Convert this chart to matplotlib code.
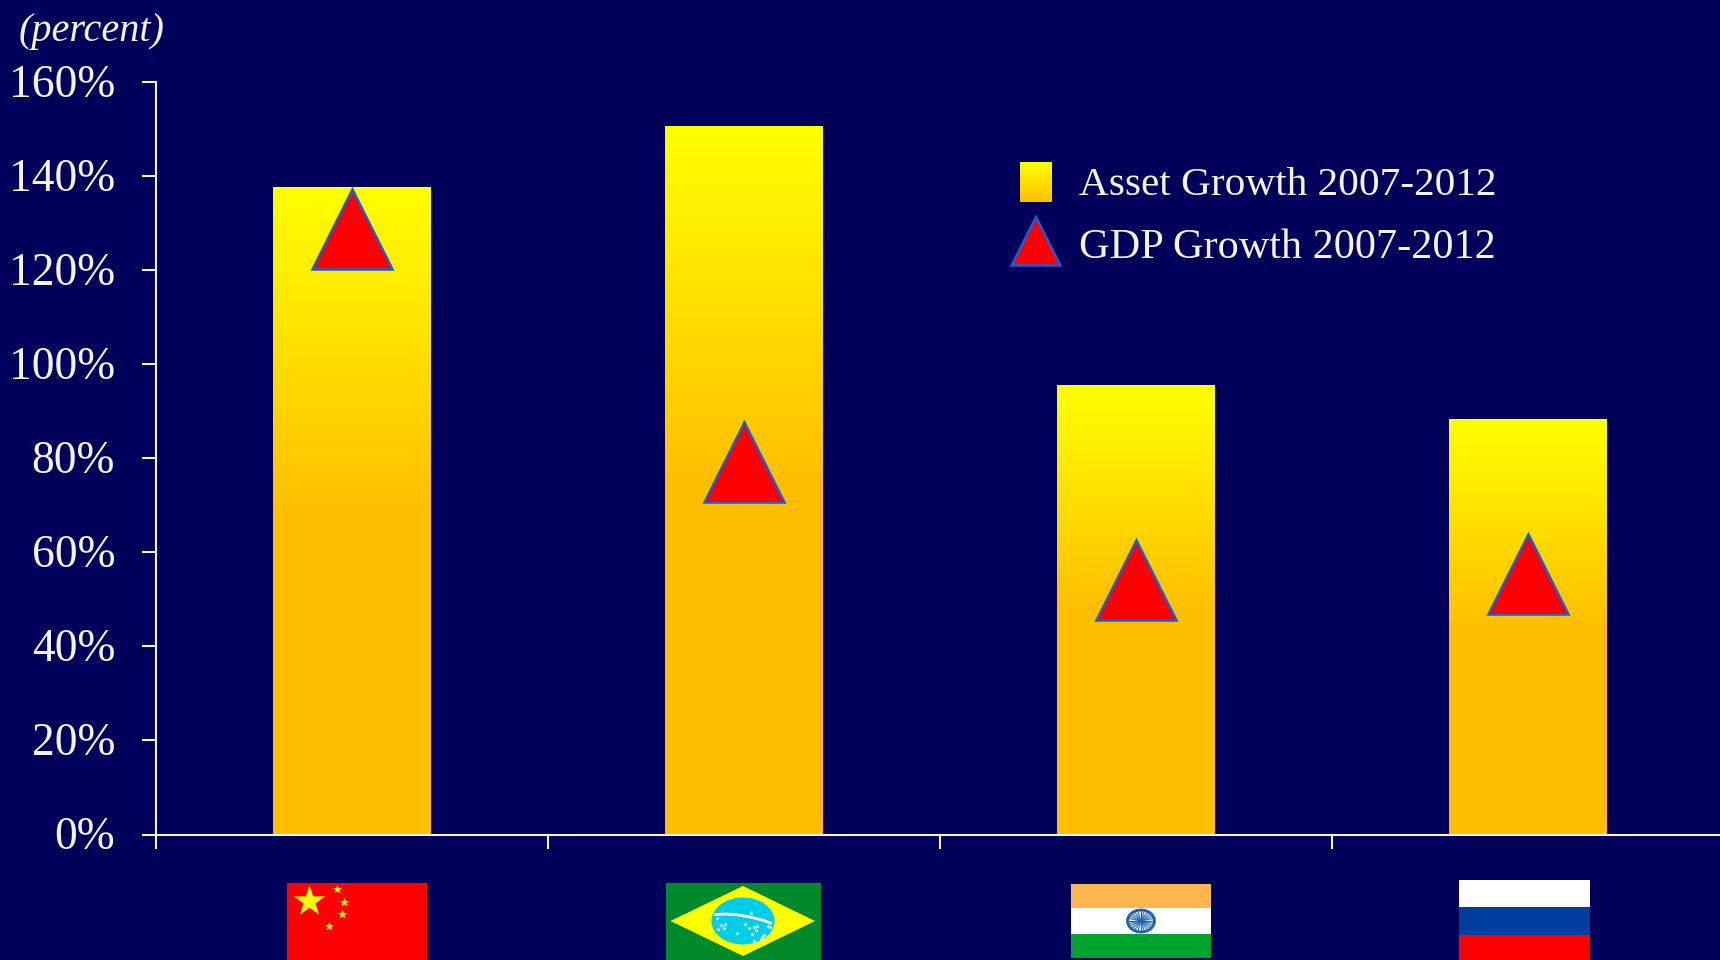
import numpy as np
import matplotlib
matplotlib.use("Agg")
import matplotlib.pyplot as plt
from matplotlib.colors import LinearSegmentedColormap
from matplotlib.patches import Ellipse, Polygon, Rectangle
from matplotlib.transforms import ScaledTranslation

# Data
countries = ["China", "Brazil", "India", "Russia"]
asset_growth = [137.6, 150.5, 95.3, 88.2]
gdp_growth = [128.7, 79.2, 54.2, 55.5]
y_ticks = [0, 20, 40, 60, 80, 100, 120, 140, 160]
y_tick_labels = ["0%", "20%", "40%", "60%", "80%", "100%", "120%", "140%", "160%"]

NAVY = "#00005a"
WHITE = "#f4f4f8"
W, H = 1720, 960

plt.rcParams["font.family"] = ["Liberation Serif", "DejaVu Serif"]

fig = plt.figure(figsize=(W / 100, H / 100), dpi=100, facecolor=NAVY)
ax = fig.add_axes([156 / W, 1 - 834.5 / H, (W - 156) / W, (834.5 - 82.3) / H], facecolor=NAVY)

# Bars with a vertical yellow to amber fade
fade = LinearSegmentedColormap.from_list("fade", ["#ffbf00", "#ffbf00", "#ffff00"])
x = np.arange(len(countries)) + 0.5
bars = ax.bar(x, asset_growth, width=0.403, color="#ffbf00", zorder=2)
grad = np.linspace(0, 1, 256).reshape(-1, 1)
for b in bars:
    ax.imshow(grad, cmap=fade, origin="lower", aspect="auto", zorder=2.5,
              extent=(b.get_x(), b.get_x() + b.get_width(), 0, b.get_height()))

# GDP growth markers
ax.plot(x, gdp_growth, ls="none", marker="^", ms=57.5, mfc="#ff0000", mec="#1460d8",
        mew=1.8, zorder=3, clip_on=False)

ax.set_xlim(0, (W - 156) / 392)
ax.set_ylim(0, 160)
ax.set_xticks([0, 1, 2, 3])
ax.set_xticklabels([])
ax.set_yticks(y_ticks)
ax.set_yticklabels(y_tick_labels, fontsize=32.8, color=WHITE)
ax.tick_params(axis="y", length=10, width=1.5, color=WHITE, pad=19.5)
ax.tick_params(axis="x", length=10, width=1.5, color=WHITE)
# nudge the y labels up a little
for lab in ax.get_yticklabels():
    lab.set_transform(lab.get_transform() + ScaledTranslation(0, 2 / 100, fig.dpi_scale_trans))
for side in ["top", "right"]:
    ax.spines[side].set_visible(False)
for side in ["left", "bottom"]:
    ax.spines[side].set_color(WHITE)
    ax.spines[side].set_linewidth(1.5)

# Overlay in pixel coordinates for legend, unit label and flags
ov = fig.add_axes([0, 0, 1, 1], facecolor="none")
ov.axis("off")

ov.text(19, 41, "(percent)", fontsize=29, style="italic", color=WHITE, va="baseline")

# Legend
legend_fade = np.linspace(0, 1, 64).reshape(-1, 1)
swatch_cmap = LinearSegmentedColormap.from_list("swatch", ["#ffbf00", "#ffff00"])
ov.imshow(legend_fade, cmap=swatch_cmap, extent=(1020, 1052, 202, 162), aspect="auto",
          origin="lower")
ov.set_xlim(0, W)
ov.set_ylim(H, 0)
ov.add_patch(Polygon([(1036, 217), (1060.5, 265.5), (1011.5, 265.5)], closed=True,
                     fc="#ff0000", ec="#1460d8", lw=1.8))
ov.text(1079, 195, "Asset Growth 2007-2012", fontsize=29.7, color=WHITE, va="baseline")
ov.text(1079, 258, "GDP Growth 2007-2012", fontsize=30.4, color=WHITE, va="baseline")


def rect(x0, y0, x1, y1, color):
    ov.add_patch(Rectangle((x0, y0), x1 - x0, y1 - y0, fc=color, ec="none"))


# China
rect(286.5, 883, 427, 960, "#ff0000")
ov.scatter([308.5], [901], marker="*", s=560, c="#ffff00", linewidths=0)
ov.scatter([336.5, 344, 341.5, 329], [889, 902, 914, 926], marker="*", s=50, c="#ffff00",
           linewidths=0)

# Brazil
rect(666, 883, 821, 960, "#008a2b")
ov.add_patch(Polygon([(670.5, 921), (743, 886), (815, 921), (743, 956)], closed=True,
                     fc="#ffff00", ec="none"))
ov.add_patch(Ellipse((743, 921), 63, 47, fc="#00cde8", ec="none"))
band_x = np.array([714, 726, 738, 750, 762, 772])
band_y = np.array([914.5, 914, 915, 917, 920, 923.5])
ov.plot(band_x, band_y, color="white", lw=2.0, solid_capstyle="butt")
ov.scatter([717, 721, 737, 751, 745, 754, 764, 768, 754, 749, 756, 761, 725, 724, 718, 757, 762,
            770, 752],
           [918, 925, 933, 913, 924, 927, 935, 926, 941, 928, 930, 939, 924, 928, 929, 926, 937,
            927, 934],
           marker="*", s=12, c="white", linewidths=0)

# India
rect(1071, 884, 1211, 908, "#ffb64f")
rect(1071, 908, 1211, 934, "#ffffff")
rect(1071, 934, 1211, 958, "#00a32e")
ov.add_patch(Ellipse((1141, 921), 27, 22, fc="#dce8f4", ec="#1a62b4", lw=2))
for a in np.linspace(0, np.pi, 12, endpoint=False):
    ov.plot([1141 - 13 * np.cos(a), 1141 + 13 * np.cos(a)],
            [921 - 10.5 * np.sin(a), 921 + 10.5 * np.sin(a)], color="#1a62b4", lw=0.7)
ov.add_patch(Ellipse((1141, 921), 5, 4, fc="#104a9c", ec="none"))

# Russia
rect(1459, 880, 1590, 907, "#ffffff")
rect(1459, 907, 1590, 935, "#003fa0")
rect(1459, 935, 1590, 960, "#ff0000")

fig.savefig("out.png", dpi=100, facecolor=NAVY)
